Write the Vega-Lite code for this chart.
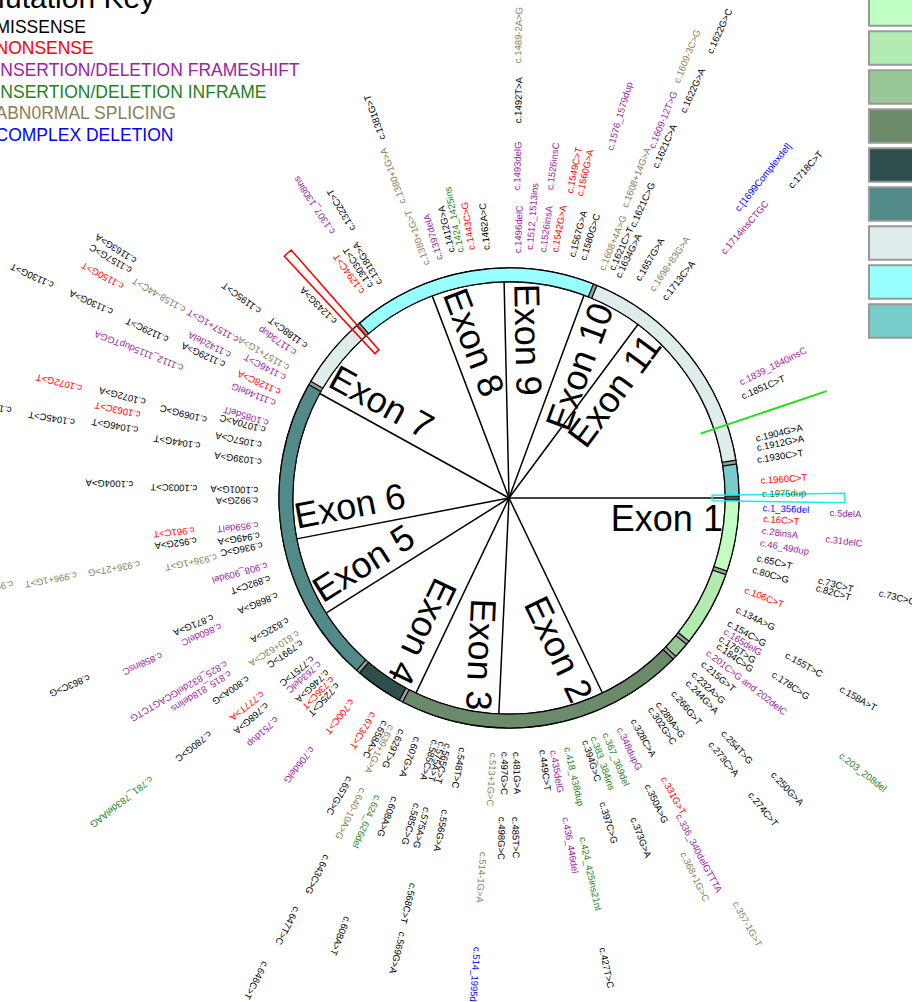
{
  "$schema": "https://vega.github.io/schema/vega-lite/v6.json",
  "autosize": "none",
  "padding": {"left": 106, "top": 0, "right": 0, "bottom": 6},
  "width": 806,
  "height": 996,
  "config": {"view": {"stroke": null}, "font": "Liberation Sans"},
  "datasets": {
    "exons": [
      {"exon": "Exon 1", "deg": 0}, {"exon": "Exon 2", "deg": 64.4}, {"exon": "Exon 3", "deg": 92.7},
      {"exon": "Exon 4", "deg": 115.5}, {"exon": "Exon 5", "deg": 147.8}, {"exon": "Exon 6", "deg": 169.1},
      {"exon": "Exon 7", "deg": 208.9}, {"exon": "Exon 8", "deg": 249.2}, {"exon": "Exon 9", "deg": 268.7},
      {"exon": "Exon 10", "deg": 290.3}, {"exon": "Exon 11", "deg": 306.6}
    ],
    "segments": [
      {"region": "Segment 1", "deg0": 0, "deg1": 19},
      {"region": "Segment 2", "deg0": 19, "deg1": 39},
      {"region": "Segment 3", "deg0": 39, "deg1": 44},
      {"region": "Segment 4", "deg0": 44, "deg1": 118},
      {"region": "Segment 5", "deg0": 118, "deg1": 131},
      {"region": "Segment 6", "deg0": 131, "deg1": 210},
      {"region": "Segment 7", "deg0": 210, "deg1": 229},
      {"region": "Segment 8", "deg0": 229, "deg1": 292},
      {"region": "Segment 7", "deg0": 292, "deg1": 351},
      {"region": "Segment 9", "deg0": 351, "deg1": 360}
    ],
    "labels": [
      {"label": "c.1839_1840insC", "type": "INSERTION/DELETION FRAMESHIFT", "deg": 333.5, "r": 1.122},
      {"label": "c.1851C>T", "type": "MISSENSE", "deg": 336.5, "r": 1.104},
      {"label": "c.1904G>A", "type": "MISSENSE", "deg": 346.5, "r": 1.104},
      {"label": "c.1912G>A", "type": "MISSENSE", "deg": 348.6, "r": 1.100},
      {"label": "c.1930C>T", "type": "MISSENSE", "deg": 351.3, "r": 1.091},
      {"label": "c.1960C>T", "type": "NONSENSE", "deg": 356.1, "r": 1.096},
      {"label": "c.1975dup", "type": "INSERTION/DELETION INFRAME", "deg": 359.1, "r": 1.100},
      {"label": "c.1_356del", "type": "COMPLEX DELETION", "deg": 2.3, "r": 1.104},
      {"label": "c.16C>T", "type": "NONSENSE", "deg": 4.7, "r": 1.109},
      {"label": "c.28insA", "type": "INSERTION/DELETION FRAMESHIFT", "deg": 7.4, "r": 1.109},
      {"label": "c.46_49dup", "type": "INSERTION/DELETION FRAMESHIFT", "deg": 10.2, "r": 1.109},
      {"label": "c.65C>T", "type": "MISSENSE", "deg": 13.6, "r": 1.109},
      {"label": "c.80C>G", "type": "MISSENSE", "deg": 16.4, "r": 1.104},
      {"label": "c.106C>T", "type": "NONSENSE", "deg": 21.3, "r": 1.100},
      {"label": "c.134A>G", "type": "MISSENSE", "deg": 26.1, "r": 1.100},
      {"label": "c.154C>G", "type": "MISSENSE", "deg": 29.7, "r": 1.096},
      {"label": "c.165delG", "type": "INSERTION/DELETION FRAMESHIFT", "deg": 31.7, "r": 1.100},
      {"label": "c.176T>G", "type": "MISSENSE", "deg": 33.6, "r": 1.100},
      {"label": "c.184C>G", "type": "MISSENSE", "deg": 35.3, "r": 1.109},
      {"label": "c.201C>G and 202delC", "type": "INSERTION/DELETION FRAMESHIFT", "deg": 37.9, "r": 1.091},
      {"label": "c.215G>T", "type": "MISSENSE", "deg": 40.5, "r": 1.104},
      {"label": "c.232A>G", "type": "MISSENSE", "deg": 43.6, "r": 1.104},
      {"label": "c.244G>A", "type": "MISSENSE", "deg": 45.9, "r": 1.113},
      {"label": "c.266G>T", "type": "MISSENSE", "deg": 49.8, "r": 1.104},
      {"label": "c.289A>G", "type": "MISSENSE", "deg": 54.0, "r": 1.100},
      {"label": "c.302G>C", "type": "MISSENSE", "deg": 56.1, "r": 1.100},
      {"label": "c.328C>A", "type": "MISSENSE", "deg": 60.8, "r": 1.104},
      {"label": "c.348dupG", "type": "INSERTION/DELETION FRAMESHIFT", "deg": 64.4, "r": 1.109},
      {"label": "c.367_369del", "type": "INSERTION/DELETION INFRAME", "deg": 67.8, "r": 1.104},
      {"label": "c.383_384ins", "type": "INSERTION/DELETION INFRAME", "deg": 70.6, "r": 1.100},
      {"label": "c.394G>C", "type": "MISSENSE", "deg": 72.6, "r": 1.104},
      {"label": "c.418_438dup", "type": "INSERTION/DELETION INFRAME", "deg": 76.9, "r": 1.113},
      {"label": "c.435delG", "type": "INSERTION/DELETION FRAMESHIFT", "deg": 80.1, "r": 1.113},
      {"label": "c.449C>T", "type": "MISSENSE", "deg": 82.5, "r": 1.104},
      {"label": "c.481G>A", "type": "MISSENSE", "deg": 88.4, "r": 1.104},
      {"label": "c.497G>C", "type": "MISSENSE", "deg": 91.0, "r": 1.104},
      {"label": "c.513+1G>C", "type": "ABN0RMAL SPLICING", "deg": 93.6, "r": 1.109},
      {"label": "c.548T>C", "type": "MISSENSE", "deg": 100.6, "r": 1.104},
      {"label": "c.565C>T", "type": "MISSENSE", "deg": 104.0, "r": 1.100},
      {"label": "c.575A>T", "type": "MISSENSE", "deg": 105.4, "r": 1.100},
      {"label": "c.585C>A", "type": "MISSENSE", "deg": 107.0, "r": 1.100},
      {"label": "c.607G>A", "type": "MISSENSE", "deg": 111.0, "r": 1.113},
      {"label": "c.629T>G", "type": "MISSENSE", "deg": 114.8, "r": 1.109},
      {"label": "c.639+1G>A", "type": "ABN0RMAL SPLICING", "deg": 117.3, "r": 1.113},
      {"label": "c.658A>C", "type": "MISSENSE", "deg": 119.0, "r": 1.109},
      {"label": "c.673C>T", "type": "NONSENSE", "deg": 122.2, "r": 1.104},
      {"label": "c.700C>T", "type": "NONSENSE", "deg": 127.8, "r": 1.113},
      {"label": "c.725C>T", "type": "MISSENSE", "deg": 132.6, "r": 1.100},
      {"label": "c.736C>T", "type": "NONSENSE", "deg": 134.4, "r": 1.096},
      {"label": "c.746G>A", "type": "MISSENSE", "deg": 136.3, "r": 1.091},
      {"label": "c.763delC", "type": "INSERTION/DELETION FRAMESHIFT", "deg": 138.9, "r": 1.091},
      {"label": "c.775T>C", "type": "MISSENSE", "deg": 140.8, "r": 1.100},
      {"label": "c.799T>C", "type": "MISSENSE", "deg": 145.2, "r": 1.096},
      {"label": "c.810+63C>A", "type": "ABN0RMAL SPLICING", "deg": 147.4, "r": 1.087},
      {"label": "c.832G>A", "type": "MISSENSE", "deg": 151.1, "r": 1.096},
      {"label": "c.868G>A", "type": "MISSENSE", "deg": 157.3, "r": 1.091},
      {"label": "c.892C>T", "type": "MISSENSE", "deg": 161.5, "r": 1.096},
      {"label": "c.908_909del", "type": "INSERTION/DELETION FRAMESHIFT", "deg": 164.5, "r": 1.091},
      {"label": "c.936G>C", "type": "MISSENSE", "deg": 169.2, "r": 1.091},
      {"label": "c.949G>A", "type": "MISSENSE", "deg": 171.5, "r": 1.096},
      {"label": "c.959delT", "type": "INSERTION/DELETION FRAMESHIFT", "deg": 173.9, "r": 1.096},
      {"label": "c.992G>A", "type": "MISSENSE", "deg": 179.5, "r": 1.091},
      {"label": "c.1001G>A", "type": "MISSENSE", "deg": 181.8, "r": 1.091},
      {"label": "c.1039G>A", "type": "MISSENSE", "deg": 188.3, "r": 1.087},
      {"label": "c.1057C>A", "type": "MISSENSE", "deg": 192.1, "r": 1.100},
      {"label": "c.1070A>C", "type": "MISSENSE", "deg": 195.6, "r": 1.100},
      {"label": "c.1085delT", "type": "INSERTION/DELETION FRAMESHIFT", "deg": 197.3, "r": 1.096},
      {"label": "c.1114delG", "type": "INSERTION/DELETION FRAMESHIFT", "deg": 202.1, "r": 1.096},
      {"label": "c.1128C>A", "type": "NONSENSE", "deg": 204.8, "r": 1.096},
      {"label": "c.1146C>T", "type": "INSERTION/DELETION FRAMESHIFT", "deg": 208.2, "r": 1.104},
      {"label": "c.1157+1G>A", "type": "ABN0RMAL SPLICING", "deg": 210.5, "r": 1.113},
      {"label": "c.1173dup", "type": "INSERTION/DELETION FRAMESHIFT", "deg": 214.2, "r": 1.122},
      {"label": "c.1188C>T", "type": "MISSENSE", "deg": 216.8, "r": 1.100},
      {"label": "c.1243G>A", "type": "MISSENSE", "deg": 225.3, "r": 1.074},
      {"label": "c.1294C>T", "type": "NONSENSE", "deg": 234.5, "r": 1.096},
      {"label": "c.1303C>T", "type": "MISSENSE", "deg": 236.8, "r": 1.096},
      {"label": "c.1318G>A", "type": "MISSENSE", "deg": 238.9, "r": 1.087},
      {"label": "c.1380+1G>T", "type": "ABN0RMAL SPLICING", "deg": 250.6, "r": 1.074},
      {"label": "c.1397delA", "type": "INSERTION/DELETION FRAMESHIFT", "deg": 253.8, "r": 1.078},
      {"label": "c.1412G>A", "type": "MISSENSE", "deg": 256.9, "r": 1.096},
      {"label": "c.1424_1425ins", "type": "INSERTION/DELETION INFRAME", "deg": 258.9, "r": 1.087},
      {"label": "c.1443C>G", "type": "NONSENSE", "deg": 261.5, "r": 1.091},
      {"label": "c.1462A>C", "type": "MISSENSE", "deg": 264.9, "r": 1.083},
      {"label": "c.1496delC", "type": "INSERTION/DELETION FRAMESHIFT", "deg": 272.1, "r": 1.065},
      {"label": "c.1512_1513ins", "type": "INSERTION/DELETION FRAMESHIFT", "deg": 274.8, "r": 1.083},
      {"label": "c.1526insA", "type": "INSERTION/DELETION FRAMESHIFT", "deg": 277.9, "r": 1.078},
      {"label": "c.1542G>A", "type": "NONSENSE", "deg": 280.6, "r": 1.087},
      {"label": "c.1567G>A", "type": "MISSENSE", "deg": 284.7, "r": 1.083},
      {"label": "c.1580G>C", "type": "MISSENSE", "deg": 287.3, "r": 1.083},
      {"label": "c.1608+4A>G", "type": "ABN0RMAL SPLICING", "deg": 292.2, "r": 1.070},
      {"label": "c.1621C>T", "type": "MISSENSE", "deg": 294.3, "r": 1.087},
      {"label": "c.1634G>A", "type": "MISSENSE", "deg": 296.3, "r": 1.070},
      {"label": "c.1657G>A", "type": "MISSENSE", "deg": 300.6, "r": 1.100},
      {"label": "c.1698+83G>A", "type": "ABN0RMAL SPLICING", "deg": 304.5, "r": 1.096},
      {"label": "c.1713C>A", "type": "MISSENSE", "deg": 308.0, "r": 1.096},
      {"label": "c.5delA", "type": "INSERTION/DELETION FRAMESHIFT", "deg": 2.7, "r": 1.396},
      {"label": "c.31delC", "type": "INSERTION/DELETION FRAMESHIFT", "deg": 7.4, "r": 1.387},
      {"label": "c.73C>T", "type": "MISSENSE", "deg": 14.9, "r": 1.391},
      {"label": "c.82C>T", "type": "MISSENSE", "deg": 16.3, "r": 1.391},
      {"label": "c.155T>C", "type": "MISSENSE", "deg": 29.5, "r": 1.383},
      {"label": "c.178C>G", "type": "MISSENSE", "deg": 33.7, "r": 1.378},
      {"label": "c.254T>G", "type": "MISSENSE", "deg": 47.6, "r": 1.378},
      {"label": "c.273C>A", "type": "MISSENSE", "deg": 50.6, "r": 1.378},
      {"label": "c.331G>T", "type": "NONSENSE", "deg": 61.1, "r": 1.387},
      {"label": "c.350A>G", "type": "MISSENSE", "deg": 64.3, "r": 1.383},
      {"label": "c.397C>G", "type": "MISSENSE", "deg": 73.0, "r": 1.383},
      {"label": "c.436_446del", "type": "INSERTION/DELETION FRAMESHIFT", "deg": 80.0, "r": 1.409},
      {"label": "c.485T>C", "type": "MISSENSE", "deg": 88.9, "r": 1.387},
      {"label": "c.498G>C", "type": "MISSENSE", "deg": 91.3, "r": 1.387},
      {"label": "c.556G>A", "type": "MISSENSE", "deg": 101.6, "r": 1.383},
      {"label": "c.575A>G", "type": "MISSENSE", "deg": 104.9, "r": 1.391},
      {"label": "c.585C>G", "type": "MISSENSE", "deg": 106.8, "r": 1.387},
      {"label": "c.608A>G", "type": "MISSENSE", "deg": 110.9, "r": 1.391},
      {"label": "c.624_626del", "type": "INSERTION/DELETION INFRAME", "deg": 113.8, "r": 1.413},
      {"label": "c.640-10A>G", "type": "ABN0RMAL SPLICING", "deg": 116.7, "r": 1.413},
      {"label": "c.657G>C", "type": "MISSENSE", "deg": 119.7, "r": 1.396},
      {"label": "c.706delG", "type": "INSERTION/DELETION FRAMESHIFT", "deg": 128.2, "r": 1.383},
      {"label": "c.751dup", "type": "INSERTION/DELETION FRAMESHIFT", "deg": 136.5, "r": 1.391},
      {"label": "c.768G>A", "type": "MISSENSE", "deg": 139.5, "r": 1.383},
      {"label": "c.777T>A", "type": "NONSENSE", "deg": 141.6, "r": 1.365},
      {"label": "c.800A>G", "type": "MISSENSE", "deg": 145.4, "r": 1.378},
      {"label": "c.815_818delins", "type": "INSERTION/DELETION FRAMESHIFT", "deg": 147.9, "r": 1.430},
      {"label": "c.825_832delGCAGTCTG", "type": "INSERTION/DELETION FRAMESHIFT", "deg": 149.7, "r": 1.422},
      {"label": "c.860delC", "type": "INSERTION/DELETION FRAMESHIFT", "deg": 156.1, "r": 1.370},
      {"label": "c.871G>A", "type": "MISSENSE", "deg": 158.1, "r": 1.387},
      {"label": "c.936+1G>T", "type": "ABN0RMAL SPLICING", "deg": 168.6, "r": 1.296},
      {"label": "c.952G>A", "type": "MISSENSE", "deg": 172.3, "r": 1.370},
      {"label": "c.961C>T", "type": "NONSENSE", "deg": 174.2, "r": 1.374},
      {"label": "c.1003C>T", "type": "MISSENSE", "deg": 181.8, "r": 1.357},
      {"label": "c.1044G>T", "type": "MISSENSE", "deg": 189.6, "r": 1.361},
      {"label": "c.1069G>C", "type": "MISSENSE", "deg": 194.5, "r": 1.357},
      {"label": "c.1129G>A", "type": "MISSENSE", "deg": 205.1, "r": 1.365},
      {"label": "c.1142delA", "type": "INSERTION/DELETION FRAMESHIFT", "deg": 207.1, "r": 1.361},
      {"label": "c.1157+1G>T", "type": "INSERTION/DELETION FRAMESHIFT", "deg": 210.2, "r": 1.365},
      {"label": "c.1195C>T", "type": "MISSENSE", "deg": 216.8, "r": 1.352},
      {"label": "c.1307_1308ins", "type": "INSERTION/DELETION FRAMESHIFT", "deg": 236.4, "r": 1.383},
      {"label": "c.1322C>T", "type": "MISSENSE", "deg": 239.8, "r": 1.348},
      {"label": "c.1380+1G>A", "type": "ABN0RMAL SPLICING", "deg": 250.2, "r": 1.361},
      {"label": "c.1493delG", "type": "INSERTION/DELETION FRAMESHIFT", "deg": 271.5, "r": 1.339},
      {"label": "c.1526insC", "type": "INSERTION/DELETION FRAMESHIFT", "deg": 277.6, "r": 1.352},
      {"label": "c.1549C>T", "type": "NONSENSE", "deg": 281.3, "r": 1.352},
      {"label": "c.1560G>A", "type": "NONSENSE", "deg": 283.2, "r": 1.348},
      {"label": "c.1608+14G>A", "type": "ABN0RMAL SPLICING", "deg": 291.7, "r": 1.361},
      {"label": "c.1621C>G", "type": "MISSENSE", "deg": 294.5, "r": 1.296},
      {"label": "c.1714insCTGC", "type": "INSERTION/DELETION FRAMESHIFT", "deg": 311.1, "r": 1.413},
      {"label": "c.73C>G", "type": "MISSENSE", "deg": 14.4, "r": 1.661},
      {"label": "c.158A>T", "type": "MISSENSE", "deg": 29.9, "r": 1.661},
      {"label": "c.250G>A", "type": "MISSENSE", "deg": 46.3, "r": 1.657},
      {"label": "c.274C>T", "type": "MISSENSE", "deg": 50.8, "r": 1.657},
      {"label": "c.336_340delGTTTA", "type": "INSERTION/DELETION FRAMESHIFT", "deg": 61.9, "r": 1.561},
      {"label": "c.368+1G>C", "type": "ABN0RMAL SPLICING", "deg": 63.9, "r": 1.717},
      {"label": "c.373G>A", "type": "MISSENSE", "deg": 68.8, "r": 1.491},
      {"label": "c.424_425ins21nt", "type": "INSERTION/DELETION INFRAME", "deg": 77.8, "r": 1.509},
      {"label": "c.514-1G>A", "type": "ABN0RMAL SPLICING", "deg": 94.2, "r": 1.543},
      {"label": "c.568C>T", "type": "MISSENSE", "deg": 104.0, "r": 1.726},
      {"label": "c.643C>G", "type": "MISSENSE", "deg": 117.0, "r": 1.743},
      {"label": "c.780G>C", "type": "MISSENSE", "deg": 141.8, "r": 1.652},
      {"label": "c.858insC", "type": "INSERTION/DELETION FRAMESHIFT", "deg": 155.7, "r": 1.657},
      {"label": "c.936+2T>G", "type": "ABN0RMAL SPLICING", "deg": 169.9, "r": 1.630},
      {"label": "c.1004G>A", "type": "MISSENSE", "deg": 182.1, "r": 1.635},
      {"label": "c.1046G>T", "type": "MISSENSE", "deg": 190.4, "r": 1.639},
      {"label": "c.1063C>T", "type": "NONSENSE", "deg": 192.7, "r": 1.643},
      {"label": "c.1072G>A", "type": "MISSENSE", "deg": 194.8, "r": 1.635},
      {"label": "c.1112_1115dupTGGA", "type": "INSERTION/DELETION FRAMESHIFT", "deg": 201.7, "r": 1.526},
      {"label": "c.1129C>T", "type": "MISSENSE", "deg": 204.9, "r": 1.635},
      {"label": "c.1158-44C>T", "type": "ABN0RMAL SPLICING", "deg": 210.1, "r": 1.630},
      {"label": "c.1381G>T", "type": "MISSENSE", "deg": 250.6, "r": 1.652},
      {"label": "c.1492T>A", "type": "MISSENSE", "deg": 271.4, "r": 1.630},
      {"label": "c.1576_1579dup", "type": "INSERTION/DELETION FRAMESHIFT", "deg": 286.2, "r": 1.574},
      {"label": "c.1609-12T>G", "type": "INSERTION/DELETION FRAMESHIFT", "deg": 292.2, "r": 1.643},
      {"label": "c.1621C>A", "type": "MISSENSE", "deg": 293.9, "r": 1.570},
      {"label": "c.[1699Complexdel]", "type": "COMPLEX DELETION", "deg": 308.4, "r": 1.596},
      {"label": "c.203_208del", "type": "INSERTION/DELETION INFRAME", "deg": 37.8, "r": 1.822},
      {"label": "c.357-1G>T", "type": "ABN0RMAL SPLICING", "deg": 60.8, "r": 2.013},
      {"label": "c.427T>C", "type": "MISSENSE", "deg": 78.3, "r": 1.996},
      {"label": "c.514_1995del", "type": "COMPLEX DELETION", "deg": 94.1, "r": 1.957},
      {"label": "c.569G>A", "type": "MISSENSE", "deg": 103.8, "r": 1.943},
      {"label": "c.608A>T", "type": "MISSENSE", "deg": 111.1, "r": 1.952},
      {"label": "c.647T>C", "type": "MISSENSE", "deg": 117.4, "r": 2.004},
      {"label": "c.781_783delAAG", "type": "INSERTION/DELETION INFRAME", "deg": 141.9, "r": 1.974},
      {"label": "c.863C>G", "type": "MISSENSE", "deg": 156.9, "r": 1.983},
      {"label": "c.996+1G>T", "type": "ABN0RMAL SPLICING", "deg": 169.9, "r": 1.909},
      {"label": "c.1045C>T", "type": "MISSENSE", "deg": 189.9, "r": 1.917},
      {"label": "c.1072G>T", "type": "NONSENSE", "deg": 194.4, "r": 1.917},
      {"label": "c.1130G>A", "type": "MISSENSE", "deg": 205.1, "r": 1.904},
      {"label": "c.1150G>T", "type": "NONSENSE", "deg": 208.7, "r": 1.913},
      {"label": "c.1157G>C", "type": "MISSENSE", "deg": 211.0, "r": 1.917},
      {"label": "c.1163G>A", "type": "MISSENSE", "deg": 212.4, "r": 1.922},
      {"label": "c.1489-2A>G", "type": "ABN0RMAL SPLICING", "deg": 271.2, "r": 1.891},
      {"label": "c.1609-3C>G", "type": "ABN0RMAL SPLICING", "deg": 292.0, "r": 1.948},
      {"label": "c.1622G>A", "type": "MISSENSE", "deg": 294.3, "r": 1.839},
      {"label": "c.1718C>T", "type": "MISSENSE", "deg": 312.1, "r": 1.822},
      {"label": "c.646C>T", "type": "MISSENSE", "deg": 117.7, "r": 2.278},
      {"label": "c.1130G>T", "type": "MISSENSE", "deg": 205.0, "r": 2.187},
      {"label": "c.1622G>C", "type": "MISSENSE", "deg": 294.3, "r": 2.122},
      {"label": "c.996+5G>A", "type": "ABN0RMAL SPLICING", "deg": 170.2, "r": 2.187},
      {"label": "c.1045C>G", "type": "MISSENSE", "deg": 190.0, "r": 2.196}
    ]
  },
  "layer": [
    {
      "data": {"values": [{"ring": "base"}]},
      "mark": {"type": "arc", "fill": "#9c9c9c", "stroke": "#000000", "strokeWidth": 1.2},
      "encoding": {
        "theta": {"datum": 0, "scale": {"domain": [0, 360], "range": [1.5707963, 7.8539816]}},
        "theta2": {"datum": 360},
        "radius": {"datum": 1, "scale": {"type": "linear", "domain": [0, 1], "range": [0, 230], "zero": true}},
        "radius2": {"datum": 0.94}
      }
    },
    {
      "data": {"name": "segments"},
      "mark": {"type": "arc", "stroke": "#000000", "strokeWidth": 1.2, "padAngle": 0.012},
      "encoding": {
        "theta": {"field": "deg0", "type": "quantitative", "scale": {"domain": [0, 360], "range": [1.5707963, 7.8539816]}},
        "theta2": {"field": "deg1"},
        "radius": {"datum": 1, "scale": {"type": "linear", "domain": [0, 1], "range": [0, 230], "zero": true}},
        "radius2": {"datum": 0.94},
        "fill": {
          "field": "region", "type": "nominal",
          "scale": {
            "domain": ["Segment 1", "Segment 2", "Segment 3", "Segment 4", "Segment 5", "Segment 6", "Segment 7", "Segment 8", "Segment 9"],
            "range": ["#c2ffc2", "#b2ebb2", "#98c898", "#6a8a6a", "#2e4e4e", "#528a8a", "#deecec", "#98ffff", "#78cccc"]
          },
          "legend": {
            "orient": "none", "legendX": 763.5, "legendY": -8.5, "title": null, "padding": 0,
            "symbolType": "M-1.09,-1.015H3.3V1.015H-1.09Z", "symbolSize": 1089, "symbolStrokeColor": "#999999",
            "symbolStrokeWidth": 2, "symbolOpacity": 1, "rowPadding": -7.5, "labelOffset": 80, "labelFontSize": 11
          }
        }
      }
    },
    {
      "data": {"name": "exons"},
      "mark": {"type": "arc", "filled": false, "stroke": "#000000", "strokeWidth": 1.5},
      "encoding": {
        "theta": {"field": "deg", "type": "quantitative", "scale": {"domain": [0, 360], "range": [1.5707963, 7.8539816]}},
        "theta2": {"field": "deg"},
        "radius": {"datum": 0.94, "scale": {"type": "linear", "domain": [0, 1], "range": [0, 230], "zero": true}},
        "radius2": {"datum": 0}
      }
    },
    {
      "data": {"values": [{"marker": "red"}]},
      "mark": {"type": "arc", "filled": false, "stroke": "#ff0000", "strokeWidth": 1.5},
      "encoding": {
        "theta": {"datum": 227.1, "scale": {"domain": [0, 360], "range": [1.5707963, 7.8539816]}},
        "theta2": {"datum": 228.7},
        "radius": {"datum": 1.435, "scale": {"type": "linear", "domain": [0, 1], "range": [0, 230], "zero": true}},
        "radius2": {"datum": 0.857}
      }
    },
    {
      "data": {"values": [{"marker": "cyan"}]},
      "mark": {"type": "arc", "filled": false, "stroke": "#1ee8f0", "strokeWidth": 1.5},
      "encoding": {
        "theta": {"datum": -0.8, "scale": {"domain": [0, 360], "range": [1.5707963, 7.8539816]}},
        "theta2": {"datum": 0.8},
        "radius": {"datum": 1.46, "scale": {"type": "linear", "domain": [0, 1], "range": [0, 230], "zero": true}},
        "radius2": {"datum": 0.883}
      }
    },
    {
      "data": {"values": [{"marker": "green"}]},
      "mark": {"type": "arc", "filled": false, "stroke": "#22dd22", "strokeWidth": 2},
      "encoding": {
        "theta": {"datum": 341.4, "scale": {"domain": [0, 360], "range": [1.5707963, 7.8539816]}},
        "theta2": {"datum": 341.4},
        "radius": {"datum": 1.457, "scale": {"type": "linear", "domain": [0, 1], "range": [0, 230], "zero": true}},
        "radius2": {"datum": 0.878}
      }
    },
    {
      "data": {"name": "exons"},
      "transform": [{"filter": {"not": {"field": "deg", "range": [140, 280]}}}],
      "mark": {"type": "text", "align": "right", "baseline": "top", "fontSize": 36, "font": "Liberation Sans", "dy": 5, "color": "#000000"},
      "encoding": {
        "theta": {"field": "deg", "type": "quantitative", "stack": false, "scale": {"domain": [0, 360], "range": [1.5707963, 7.8539816]}},
        "radius": {"datum": 0.93, "scale": {"type": "linear", "domain": [0, 1], "range": [0, 230], "zero": true}},
        "angle": {"field": "deg", "type": "quantitative", "scale": {"domain": [0, 360], "range": [0, 360]}},
        "text": {"field": "exon"}
      }
    },
    {
      "data": {"name": "exons"},
      "transform": [{"filter": {"field": "deg", "range": [140, 280]}}],
      "mark": {"type": "text", "align": "left", "baseline": "bottom", "fontSize": 36, "font": "Liberation Sans", "dy": -2, "color": "#000000"},
      "encoding": {
        "theta": {"field": "deg", "type": "quantitative", "stack": false, "scale": {"domain": [0, 360], "range": [1.5707963, 7.8539816]}},
        "radius": {"datum": 0.93, "scale": {"type": "linear", "domain": [0, 1], "range": [0, 230], "zero": true}},
        "angle": {"field": "deg", "type": "quantitative", "scale": {"domain": [0, 360], "range": [180, 540]}},
        "text": {"field": "exon"}
      }
    },
    {
      "data": {"name": "labels"},
      "mark": {"type": "text", "align": "left", "baseline": "middle", "fontSize": 9.5, "font": "Liberation Sans"},
      "encoding": {
        "theta": {"field": "deg", "type": "quantitative", "stack": false, "scale": {"domain": [0, 360], "range": [1.5707963, 7.8539816]}},
        "radius": {"field": "r", "type": "quantitative", "scale": {"type": "linear", "domain": [0, 1], "range": [0, 230], "zero": true}},
        "angle": {"field": "deg", "type": "quantitative", "scale": {"domain": [0, 360], "range": [0, 360]}},
        "text": {"field": "label"},
        "color": {
          "field": "type", "type": "nominal",
          "scale": {
            "domain": ["MISSENSE", "NONSENSE", "INSERTION/DELETION FRAMESHIFT", "INSERTION/DELETION INFRAME", "ABN0RMAL SPLICING", "COMPLEX DELETION"],
            "range": ["#000000", "#ff0000", "#9b249b", "#228222", "#8c7d55", "#0000ff"]
          },
          "legend": {
            "orient": "none", "legendX": -126, "legendY": -16, "padding": 0,
            "title": "Mutation Key", "titleFontSize": 30, "titleFont": "Liberation Sans", "titleFontWeight": "normal",
            "titleColor": "#000000", "titlePadding": 5, "titleLimit": 1000,
            "labelFontSize": 17.5, "labelFont": "Liberation Sans", "labelOffset": -2, "labelLimit": 1000,
            "symbolSize": 0, "symbolOpacity": 0, "symbolStrokeWidth": 0, "rowPadding": 2.6,
            "labelColor": {"expr": "datum.label == 'NONSENSE' ? '#ff0000' : datum.label == 'INSERTION/DELETION FRAMESHIFT' ? '#9b249b' : datum.label == 'INSERTION/DELETION INFRAME' ? '#228222' : datum.label == 'ABN0RMAL SPLICING' ? '#8c7d55' : datum.label == 'COMPLEX DELETION' ? '#0000ff' : '#000000'"}
          }
        }
      }
    }
  ],
  "resolve": {"scale": {"angle": "independent"}}
}
